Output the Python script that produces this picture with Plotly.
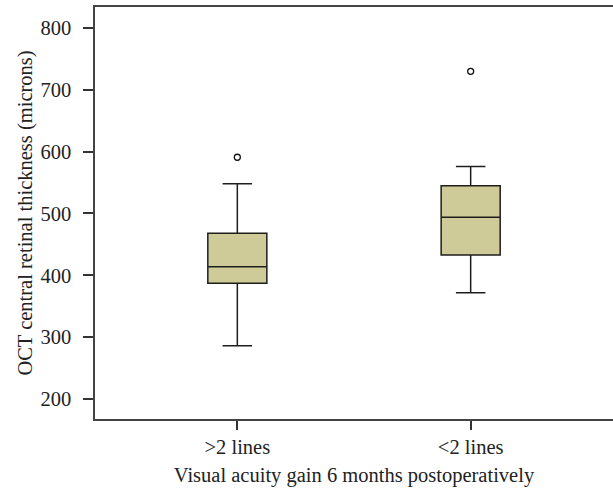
import plotly.graph_objects as go

categories = [">2 lines", "<2 lines"]
lower_whisker = [286, 372]
q1 = [387, 433]
median = [414, 494]
q3 = [468, 545]
upper_whisker = [548, 576]
outlier_x = [">2 lines", "<2 lines"]
outlier_y = [591, 730]
y_ticks = [200, 300, 400, 500, 600, 700, 800]

FONT = "Liberation Serif"
FS = 20.5
fig = go.Figure()
fig.add_trace(go.Box(
    x=categories, q1=q1, median=median, q3=q3,
    lowerfence=lower_whisker, upperfence=upper_whisker,
    fillcolor="#CECB98", line=dict(color="#1e1e1e", width=1.5),
    width=0.253, whiskerwidth=0.5, boxpoints=False, showlegend=False,
    hoverinfo="skip"))
fig.add_trace(go.Scatter(
    x=outlier_x, y=outlier_y, mode="markers",
    marker=dict(symbol="circle-open", size=6, color="#111",
                line=dict(width=1.3)),
    showlegend=False))

fig.update_layout(
    width=613, height=495,
    margin=dict(l=95, r=0, t=7, b=76),
    paper_bgcolor="white", plot_bgcolor="white",
    font=dict(family=FONT, size=FS, color="#222"),
    xaxis=dict(type="category", range=[-0.61, 1.61],
               showline=True, linecolor="#444", linewidth=1.5, mirror=True,
               ticks="outside", ticklen=9, tickcolor="#333", tickwidth=1.5,
               showgrid=False, zeroline=False,
               tickfont=dict(size=FS),
               title=dict(text="Visual acuity gain 6 months postoperatively",
                          font=dict(size=FS), standoff=10)),
    yaxis=dict(range=[167.6, 834], tickvals=y_ticks,
               showline=True, linecolor="#444", linewidth=1.5, mirror=False,
               ticks="outside", ticklen=10, tickcolor="#333", tickwidth=1.5,
               showgrid=False, zeroline=False,
               tickfont=dict(size=FS), ticklabelstandoff=8,
               title=dict(text="OCT central retinal thickness (microns)",
                          font=dict(size=FS), standoff=2)),
)
fig.write_html("out.html")
